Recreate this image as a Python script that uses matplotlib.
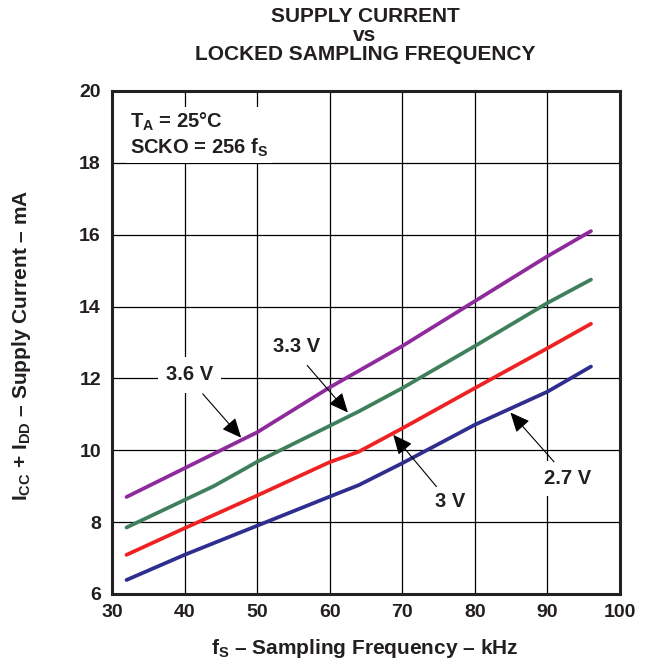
import matplotlib
matplotlib.use("Agg")
import matplotlib.pyplot as plt

plt.rcParams['font.family'] = ['Liberation Sans', 'DejaVu Sans']
plt.rcParams['font.weight'] = 'bold'
plt.rcParams['mathtext.fontset'] = 'custom'
plt.rcParams['mathtext.rm'] = 'Liberation Sans:bold'
plt.rcParams['mathtext.it'] = 'Liberation Sans:bold'
plt.rcParams['mathtext.bf'] = 'Liberation Sans:bold'

TXT = '#231f20'

# -----------------------
# DATA
# -----------------------
freq_36 = [32, 40, 44, 48, 50, 60, 70, 80, 90, 96]
icc_36 = [8.70, 9.50, 9.90, 10.30, 10.50, 11.75, 12.90, 14.15, 15.40, 16.10]

freq_33 = [32, 44, 48, 50, 60, 64, 70, 80, 90, 96]
icc_33 = [7.85, 9.00, 9.45, 9.68, 10.68, 11.08, 11.73, 12.90, 14.10, 14.75]

freq_30 = [32, 40, 50, 60, 64, 70, 80, 90, 96]
icc_30 = [7.09, 7.83, 8.74, 9.67, 9.96, 10.61, 11.73, 12.84, 13.52]

freq_27 = [32, 40, 50, 60, 64, 70, 80, 90, 96]
icc_27 = [6.39, 7.09, 7.90, 8.71, 9.03, 9.64, 10.71, 11.63, 12.33]

x_ticks = [30, 40, 50, 60, 70, 80, 90, 100]
y_ticks = [6, 8, 10, 12, 14, 16, 18, 20]

# label text, text position, arrow tail, arrow tip
labels = ["3.6 V", "3.3 V", "3 V", "2.7 V"]
label_xy = [(40.7, 12.1), (55.4, 12.9), (76.6, 8.57), (92.8, 9.22)]
tail_xy = [(42.5, 11.57), (56.9, 12.36), (74.7, 8.99), (90.9, 9.68)]
tip_xy = [(47.8, 10.35), (62.5, 11.05), (68.75, 10.43), (84.9, 11.05)]

# -----------------------
# PLOT
# -----------------------
fig = plt.figure(figsize=(6.47, 6.65), dpi=100)
ax = fig.add_axes([0.1731, 0.1068, 0.7852, 0.7564])

ax.plot(freq_36, icc_36, color='#8E2A9C', lw=2.7, solid_capstyle='round', zorder=3)
ax.plot(freq_33, icc_33, color='#3F7F5C', lw=2.7, solid_capstyle='round', zorder=3)
ax.plot(freq_30, icc_30, color='#EE2222', lw=2.7, solid_capstyle='round', zorder=3)
ax.plot(freq_27, icc_27, color='#2D2E8E', lw=2.7, solid_capstyle='round', zorder=3)

ax.set_xlim(30, 100)
ax.set_ylim(6, 20)
ax.set_xticks(x_ticks)
ax.set_yticks(y_ticks)
ax.tick_params(axis='x', length=0, pad=7, labelsize=14, labelcolor=TXT)
ax.tick_params(axis='y', length=0, pad=8, labelsize=14, labelcolor=TXT)
for lab in ax.get_xticklabels() + ax.get_yticklabels():
    lab.set_fontweight('bold')
ax.grid(True, color='black', lw=0.9, zorder=1)
ax.set_axisbelow(True)
for sp in ax.spines.values():
    sp.set_linewidth(2.2)
    sp.set_color('#222222')

for lbl, txy, sxy, pxy in zip(labels, label_xy, tail_xy, tip_xy):
    ax.text(txy[0], txy[1], lbl, ha='center', va='center', fontsize=14.5,
            fontweight='bold', color=TXT, zorder=4,
            bbox=dict(facecolor='white', edgecolor='none', pad=6))
    ax.annotate("", xy=pxy, xytext=sxy, zorder=4,
                arrowprops=dict(arrowstyle='-|>,head_length=1.0,head_width=0.45',
                                mutation_scale=12, color='black', lw=0.8,
                                shrinkA=0, shrinkB=0))

ax.text(0.035, 0.96, "T$_{\\mathregular{A}}$ = 25°C\nSCKO = 256 f$_{\\mathregular{S}}$",
        transform=ax.transAxes, ha='left', va='top', fontsize=14.5, color=TXT,
        fontweight='bold', linespacing=1.2, zorder=4,
        bbox=dict(facecolor='white', edgecolor='none', pad=3))

fig.text(0.564, 0.99, "SUPPLY CURRENT\nvs\nLOCKED SAMPLING FREQUENCY",
         ha='center', va='top', fontsize=15, fontweight='bold', color=TXT,
         linespacing=1.0)

fig.text(0.564, 0.008, "f$_{\\mathregular{S}}$ – Sampling Frequency – kHz",
         ha='center', va='bottom', fontsize=15, fontweight='bold', color=TXT)
fig.text(0.034, 0.481, "I$_{\\mathregular{CC}}$ + I$_{\\mathregular{DD}}$ – Supply Current – mA",
         ha='center', va='center', rotation=90, fontsize=15, fontweight='bold',
         color=TXT)

fig.savefig("out.png", dpi=100)
